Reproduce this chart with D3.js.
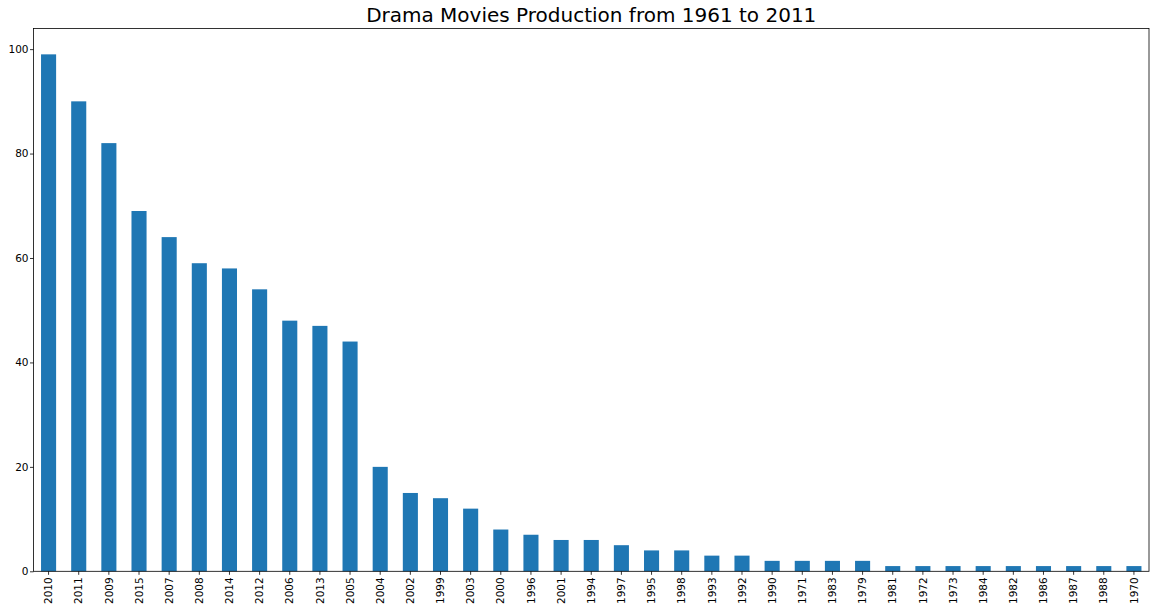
<!DOCTYPE html>
<html>
<head>
<meta charset="utf-8">
<script src="https://cdn.jsdelivr.net/npm/d3@7"></script>
<style>
  body { margin: 0; background: #fff; }
  svg text { font-family: "DejaVu Sans", sans-serif; fill: #000; }
</style>
</head>
<body>
<script>
const years = ['2010', '2011', '2009', '2015', '2007', '2008', '2014', '2012', '2006', '2013',
  '2005', '2004', '2002', '1999', '2003', '2000', '1996', '2001', '1994', '1997', '1995',
  '1998', '1993', '1992', '1990', '1971', '1983', '1979', '1981', '1972', '1973', '1984',
  '1982', '1986', '1987', '1988', '1970'];
const counts = [99, 90, 82, 69, 64, 59, 58, 54, 48, 47, 44, 20, 15, 14, 12, 8, 7, 6, 6, 5, 4,
  4, 3, 3, 2, 2, 2, 2, 1, 1, 1, 1, 1, 1, 1, 1, 1];
const yTicks = [0, 20, 40, 60, 80, 100];

const w = 1156;
const h = 611;
const plotLeft = 33.5, plotRight = 1149, plotTop = 28.5, plotBottom = 571.3;

const svg = d3.select('body').append('svg').attr('width', w).attr('height', h);

const x = d3.scaleBand()
  .domain(years)
  .range([plotLeft, plotRight])
  .paddingInner(0.5)
  .paddingOuter(0.25);

const y = d3.scaleLinear()
  .domain([0, d3.max(counts) * 1.05])
  .range([plotBottom, plotTop]);

svg.selectAll('rect.bar')
  .data(counts)
  .enter()
  .append('rect')
  .attr('class', 'bar')
  .attr('x', (d, i) => x(years[i]))
  .attr('y', d => y(d))
  .attr('width', x.bandwidth())
  .attr('height', d => y(0) - y(d))
  .attr('fill', '#1f77b4');

// axes
const xAxis = svg.append('g')
  .attr('transform', `translate(0,${plotBottom})`)
  .call(d3.axisBottom(x).tickSize(3.5).tickSizeOuter(0));
xAxis.select('.domain').remove();
xAxis.selectAll('text')
  .attr('font-size', 10.5)
  .attr('transform', 'rotate(-90)')
  .attr('text-anchor', 'end')
  .attr('x', -6)
  .attr('y', 0)
  .attr('dy', '0.35em');

const yAxis = svg.append('g')
  .attr('transform', `translate(${plotLeft},0)`)
  .call(d3.axisLeft(y).tickValues(yTicks).tickSize(3.5).tickSizeOuter(0));
yAxis.select('.domain').remove();
yAxis.selectAll('text').attr('font-size', 10.5).attr('x', -5);

svg.selectAll('.tick line').attr('stroke', '#000').attr('stroke-width', 0.8);

// frame
svg.append('rect')
  .attr('x', plotLeft)
  .attr('y', plotTop)
  .attr('width', plotRight - plotLeft)
  .attr('height', plotBottom - plotTop)
  .attr('fill', 'none')
  .attr('stroke', '#000')
  .attr('stroke-width', 0.8);

svg.append('text')
  .attr('x', (plotLeft + plotRight) / 2)
  .attr('y', 22)
  .attr('text-anchor', 'middle')
  .attr('font-size', 20)
  .text('Drama Movies Production from 1961 to 2011');
</script>
</body>
</html>
